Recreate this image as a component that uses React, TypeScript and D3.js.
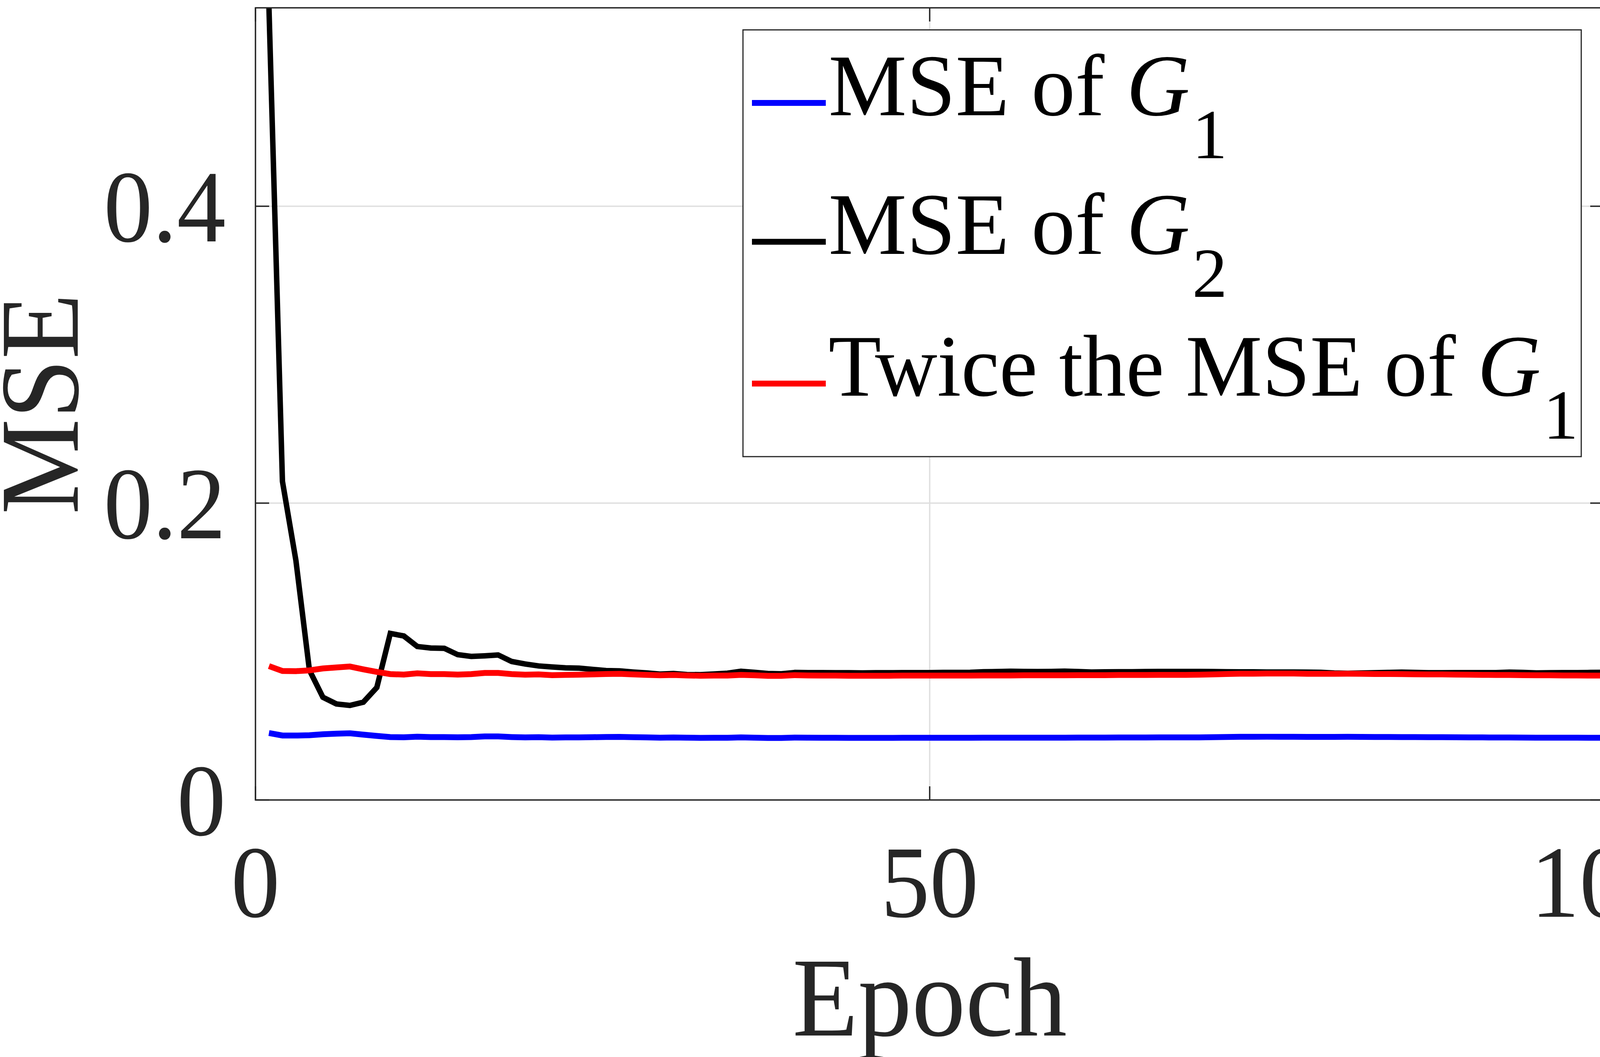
import React from "react";
import * as d3 from "d3";

// epochs 1..100
const epochs = d3.range(1, 101);

// MSE of G1 (blue)
const mseG1 = [
  0.0451, 0.04345, 0.0434, 0.04365, 0.0443, 0.04465, 0.04495, 0.044, 0.04315, 0.0424,
  0.04225, 0.04265, 0.0424, 0.0424, 0.04225, 0.0424, 0.0428, 0.0428, 0.0424, 0.0422,
  0.0423, 0.04205, 0.04215, 0.0422, 0.0423, 0.04245, 0.0425, 0.0423, 0.04215, 0.042,
  0.0421, 0.04195, 0.04185, 0.0419, 0.0419, 0.04215, 0.042, 0.0418, 0.0418, 0.04205,
  0.04195, 0.0419, 0.0419, 0.04185, 0.04185, 0.04185, 0.04185, 0.0419, 0.0419, 0.0419,
  0.0419, 0.0419, 0.0419, 0.04195, 0.04195, 0.04195, 0.042, 0.042, 0.042, 0.042,
  0.04205, 0.04205, 0.04205, 0.0421, 0.0421, 0.0421, 0.04215, 0.04215, 0.04215, 0.0422,
  0.0423, 0.04245, 0.04255, 0.04255, 0.0426, 0.0426, 0.0426, 0.0425, 0.0425, 0.0425,
  0.04255, 0.0425, 0.04245, 0.04245, 0.0424, 0.04235, 0.0423, 0.0423, 0.04225, 0.0422,
  0.04215, 0.0421, 0.0421, 0.04205, 0.042, 0.042, 0.04195, 0.04195, 0.0419, 0.0419,
];

// MSE of G2 (black)
const mseG2 = [
  0.534, 0.2147, 0.1613, 0.0875, 0.0692, 0.0647, 0.0637, 0.0659, 0.0758, 0.1122,
  0.1105, 0.1034, 0.1024, 0.1022, 0.0979, 0.0967, 0.0971, 0.0977, 0.0933, 0.0916,
  0.0903, 0.0896, 0.089, 0.0888, 0.088, 0.0872, 0.087, 0.0862, 0.0856, 0.0848,
  0.0852, 0.0845, 0.0844, 0.0849, 0.0854, 0.0867, 0.086, 0.0852, 0.085, 0.0859,
  0.0858, 0.0858, 0.0857, 0.0857, 0.0856, 0.0857, 0.0857, 0.0858, 0.0858, 0.0858,
  0.0859, 0.0859, 0.086, 0.0864, 0.0865, 0.0867, 0.0866, 0.0865, 0.0866, 0.0868,
  0.0865, 0.0862, 0.0863, 0.0864, 0.0864, 0.0865, 0.0866, 0.0866, 0.0866, 0.0866,
  0.0865, 0.0864, 0.0863, 0.0863, 0.0862, 0.0862, 0.0862, 0.0861, 0.086, 0.0855,
  0.0853, 0.0855, 0.0857, 0.0859, 0.0861, 0.0859, 0.0857, 0.0857, 0.0858, 0.0858,
  0.0858, 0.0858, 0.0861, 0.0859, 0.0856, 0.0857, 0.0858, 0.0858, 0.0859, 0.086,
];

// Twice the MSE of G1 (red)
const twiceG1 = [
  0.0902, 0.0869, 0.0868, 0.0873, 0.0886, 0.0893, 0.0899, 0.088, 0.0863, 0.0848,
  0.0845, 0.0853, 0.0848, 0.0848, 0.0845, 0.0848, 0.0856, 0.0856, 0.0848, 0.0844,
  0.0846, 0.0841, 0.0843, 0.0844, 0.0846, 0.0849, 0.085, 0.0846, 0.0843, 0.084,
  0.0842, 0.0839, 0.0837, 0.0838, 0.0838, 0.0843, 0.084, 0.0836, 0.0836, 0.0841,
  0.0839, 0.0838, 0.0838, 0.0837, 0.0837, 0.0837, 0.0837, 0.0838, 0.0838, 0.0838,
  0.0838, 0.0838, 0.0838, 0.0839, 0.0839, 0.0839, 0.084, 0.084, 0.084, 0.084,
  0.0841, 0.0841, 0.0841, 0.0842, 0.0842, 0.0842, 0.0843, 0.0843, 0.0843, 0.0844,
  0.0846, 0.0849, 0.0851, 0.0851, 0.0852, 0.0852, 0.0852, 0.085, 0.085, 0.085,
  0.0851, 0.085, 0.0849, 0.0849, 0.0848, 0.0847, 0.0846, 0.0846, 0.0845, 0.0844,
  0.0843, 0.0842, 0.0842, 0.0841, 0.084, 0.084, 0.0839, 0.0839, 0.0838, 0.0838,
];

const xTicks = [0, 50, 100];
const yTicks = [0, 0.2, 0.4];
const yTickLabels = ["0", "0.2", "0.4"];

const legendNames = ["MSE of ", "MSE of ", "Twice the MSE of "];
const legendSubs = ["1", "2", "1"];
const seriesColors = ["#0000ff", "#000000", "#ff0000"];

class App extends React.Component {
  componentDidMount() {
    this.drawChart();
  }

  drawChart() {
    var width = 4294,
      height = 2706;
    var margin = { left: 654, right: 188, top: 20, bottom: 658 };
    var font = "'Liberation Serif', 'Times New Roman', serif";
    var axisColor = "#262626";
    var stretch = 1.05; // the reference glyphs are slightly taller than wide

    var root = d3.select("#mseChart");
    root.selectAll("*").remove();

    var svg = root
      .append("svg")
      .attr("width", width)
      .attr("height", height)
      .style("position", "absolute")
      .style("left", 0)
      .style("top", 0)
      .style("background", "white");

    var x = d3.scaleLinear().domain([0, 100]).range([margin.left, width - margin.right]);
    var y = d3
      .scaleLinear()
      .domain([0, 0.5337])
      .range([height - margin.bottom, margin.top]);

    var x0 = x.range()[0],
      x1 = x.range()[1],
      y0 = y.range()[0],
      y1 = y.range()[1];

    // grid
    svg
      .selectAll("xGrid")
      .data(xTicks)
      .enter()
      .append("line")
      .attr("x1", (d) => x(d))
      .attr("x2", (d) => x(d))
      .attr("y1", y0)
      .attr("y2", y1)
      .attr("stroke", "#dfdfdf")
      .attr("stroke-width", 3.5);
    svg
      .selectAll("yGrid")
      .data(yTicks)
      .enter()
      .append("line")
      .attr("x1", x0)
      .attr("x2", x1)
      .attr("y1", (d) => y(d))
      .attr("y2", (d) => y(d))
      .attr("stroke", "#dfdfdf")
      .attr("stroke-width", 3.5);

    // clip for the data lines
    svg
      .append("clipPath")
      .attr("id", "plotClip")
      .append("rect")
      .attr("x", x0)
      .attr("y", y1)
      .attr("width", x1 - x0)
      .attr("height", y0 - y1);

    var line = d3
      .line<number>()
      .x((d, i) => x(epochs[i]))
      .y((d) => y(d));

    var series = [mseG1, mseG2, twiceG1];
    var widths = [15, 14, 15];
    series.forEach(function (s, i) {
      svg
        .append("path")
        .attr("clip-path", "url(#plotClip)")
        .attr("d", line(s) as string)
        .attr("fill", "none")
        .attr("stroke", seriesColors[i])
        .attr("stroke-width", widths[i]);
    });

    // axes box
    svg
      .append("rect")
      .attr("x", x0)
      .attr("y", y1)
      .attr("width", x1 - x0)
      .attr("height", y0 - y1)
      .attr("fill", "none")
      .attr("stroke", axisColor)
      .attr("stroke-width", 3.5);

    var tickLen = 35;
    // ticks point inward on all four sides
    xTicks.forEach(function (t) {
      svg
        .append("line")
        .attr("x1", x(t))
        .attr("x2", x(t))
        .attr("y1", y0)
        .attr("y2", y0 - tickLen)
        .attr("stroke", axisColor)
        .attr("stroke-width", 3.5);
      svg
        .append("line")
        .attr("x1", x(t))
        .attr("x2", x(t))
        .attr("y1", y1)
        .attr("y2", y1 + tickLen)
        .attr("stroke", axisColor)
        .attr("stroke-width", 3.5);
    });
    yTicks.forEach(function (t) {
      svg
        .append("line")
        .attr("x1", x0)
        .attr("x2", x0 + tickLen)
        .attr("y1", y(t))
        .attr("y2", y(t))
        .attr("stroke", axisColor)
        .attr("stroke-width", 3.5);
      svg
        .append("line")
        .attr("x1", x1)
        .attr("x2", x1 - tickLen)
        .attr("y1", y(t))
        .attr("y2", y(t))
        .attr("stroke", axisColor)
        .attr("stroke-width", 3.5);
    });

    // tick labels
    svg
      .selectAll("xLabels")
      .data(xTicks)
      .enter()
      .append("text")
      .attr("transform", (d) => "translate(" + x(d) + ",2347) scale(1," + stretch + ")")
      .attr("text-anchor", "middle")
      .attr("font-family", font)
      .attr("font-size", 250)
      .attr("fill", axisColor)
      .text((d) => String(d));

    svg
      .selectAll("yLabels")
      .data(yTicks)
      .enter()
      .append("text")
      .attr(
        "transform",
        (d) => "translate(" + (x0 - 76) + "," + (y(d) + 90) + ") scale(1," + stretch + ")"
      )
      .attr("text-anchor", "end")
      .attr("font-family", font)
      .attr("font-size", 250)
      .attr("fill", axisColor)
      .text((d, i) => yTickLabels[i]);

    // axis titles
    svg
      .append("text")
      .attr("transform", "translate(" + (x0 + x1) / 2 + ",2651) scale(1," + stretch + ")")
      .attr("text-anchor", "middle")
      .attr("font-family", font)
      .attr("font-size", 275)
      .attr("fill", axisColor)
      .text("Epoch");

    svg
      .append("text")
      .attr(
        "transform",
        "translate(199," + (y0 + y1) / 2 + ") rotate(-90) scale(1," + stretch + ")"
      )
      .attr("text-anchor", "middle")
      .attr("font-family", font)
      .attr("font-size", 275)
      .attr("fill", axisColor)
      .text("MSE");

    // legend
    var lg = svg.append("g");
    lg.append("rect")
      .attr("x", 1902)
      .attr("y", 76.5)
      .attr("width", 2146)
      .attr("height", 1092.5)
      .attr("fill", "white")
      .attr("stroke", axisColor)
      .attr("stroke-width", 3);

    var rowBase = [294.6, 650, 1013];
    legendNames.forEach(function (name, i) {
      lg.append("line")
        .attr("x1", 1925)
        .attr("x2", 2114)
        .attr("y1", rowBase[i] - 31)
        .attr("y2", rowBase[i] - 31)
        .attr("stroke", seriesColors[i])
        .attr("stroke-width", 15);
      var t = lg
        .append("text")
        .attr("x", 2121)
        .attr("y", rowBase[i])
        .attr("font-family", font)
        .attr("font-size", 225)
        .attr("fill", "#000");
      var main = t.append("tspan").text(name);
      if (i === 2) main.attr("textLength", 1661).attr("lengthAdjust", "spacingAndGlyphs");
      t.append("tspan").attr("font-style", "italic").text("G");
      t.append("tspan").attr("font-size", 180).attr("dy", 110).attr("dx", 6).text(legendSubs[i]);
    });
  }

  render() {
    return <div id="mseChart"></div>;
  }
}

export default App;
